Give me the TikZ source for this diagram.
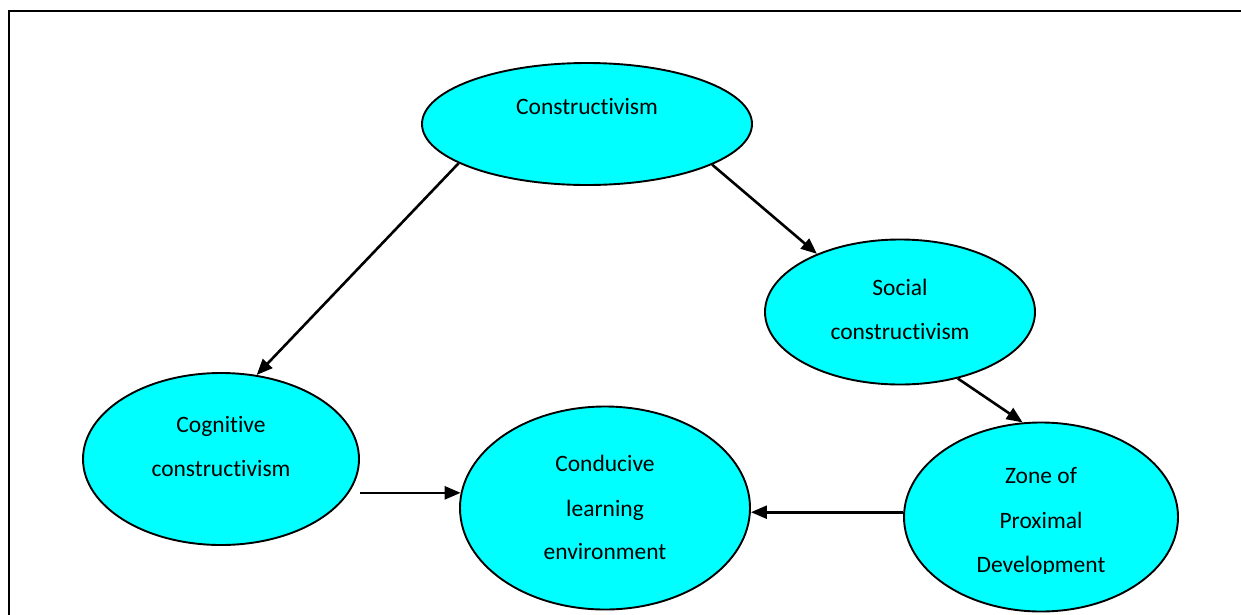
\documentclass[tikz,border=0pt]{standalone}
\usepackage{fontspec}
\setmainfont{Carlito}[Ligatures={NoCommon}]
\usetikzlibrary{shapes.geometric,arrows.meta}
\definecolor{aqua}{RGB}{0,255,255}
\begin{document}
\begin{tikzpicture}[x=1pt,y=-1pt,
  bubble/.style={ellipse, draw=black, line width=1.9pt, fill=aqua, inner sep=0pt},
  lbl/.style={anchor=base, inner sep=0pt, font=\fontsize{23.5}{28}\selectfont},
  arr/.style={-{Triangle[length=16pt,width=13pt]}, line width=2.6pt}]
\useasboundingbox (0,0) rectangle (1241,614);

% outer frame (left and top edges)
\draw[line width=2.8pt] (9,616) -- (9,11) -- (1243,11);

% ellipses
\node[bubble, minimum width=330pt, minimum height=122pt] (cons) at (587,124) {};
\node[bubble, minimum width=270pt, minimum height=145pt] (soc)  at (900,312) {};
\node[bubble, minimum width=276pt, minimum height=172pt] (cog)  at (221,459) {};
\node[bubble, minimum width=290pt, minimum height=203pt] (cond) at (605,508) {};
\node[bubble, minimum width=274pt, minimum height=189pt] (zpd)  at (1041,517) {};

% labels
\node[lbl] (tcons)  at (587,114) {Constructivism};
\node[lbl] (tsoc1)  at (900,295) {Social};
\node[lbl] (tsoc2)  at (900,339) {constructivism};
\node[lbl] (tcog1)  at (221,432) {Cognitive};
\node[lbl] (tcog2)  at (221,476) {constructivism};
\node[lbl] (tcond1) at (605,471) {Conducive};
\node[lbl] (tcond2) at (605,516) {learning};
\node[lbl] (tcond3) at (605,559) {environment};
\node[lbl] (tzpd1)  at (1041,483) {Zone of};
\node[lbl] (tzpd2)  at (1041,528) {Proximal};
\begin{scope}
  \clip (0,0) rectangle (1241,573);
  \node[lbl] (tzpd3) at (1041,572) {Development};
\end{scope}

% connectors
\draw[arr] (cons.197.3) -- (cog.67.3);
\draw[arr] (cons.342) -- (soc.145.5);
\draw[arr] (soc.311) -- (zpd.101.4);
\draw[arr] (cog.east |- cond.174) -- (cond.174);
\draw[arr] (zpd.178) -- (cond.east |- zpd.178);
\end{tikzpicture}
\end{document}
